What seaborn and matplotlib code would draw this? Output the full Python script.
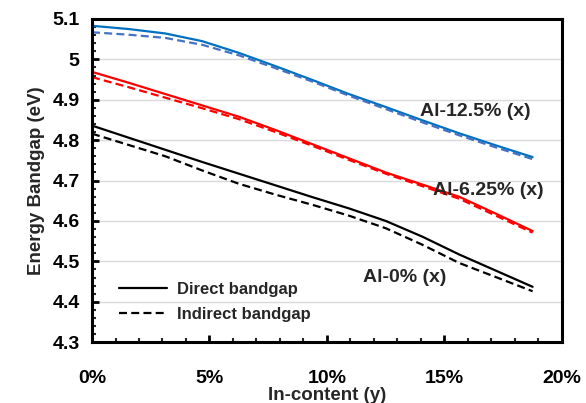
import numpy as np
import pandas as pd
import matplotlib
matplotlib.use("Agg")
import matplotlib.pyplot as plt
import matplotlib.ticker as mticker
import seaborn as sns

# In-content (y) in percent
in_content = [0, 1.5625, 3.125, 4.6875, 6.25, 7.8125, 9.375,
              10.9375, 12.5, 14.0625, 15.625, 17.1875, 18.75]

# Energy bandgap (eV)
al0_direct = [4.836, 4.806, 4.776, 4.746, 4.717, 4.688, 4.659,
              4.631, 4.600, 4.561, 4.517, 4.477, 4.437]
al0_indirect = [4.816, 4.788, 4.760, 4.725, 4.692, 4.665, 4.640,
                4.613, 4.582, 4.541, 4.496, 4.461, 4.426]
al625_direct = [4.969, 4.942, 4.914, 4.886, 4.858, 4.825, 4.790,
                4.755, 4.720, 4.690, 4.660, 4.618, 4.575]
al625_indirect = [4.956, 4.931, 4.905, 4.879, 4.852, 4.820, 4.786,
                  4.751, 4.717, 4.686, 4.655, 4.613, 4.571]
al125_direct = [5.083, 5.075, 5.064, 5.045, 5.016, 4.983, 4.949,
                4.914, 4.882, 4.849, 4.817, 4.787, 4.758]
al125_indirect = [5.067, 5.061, 5.053, 5.036, 5.010, 4.978, 4.945,
                  4.910, 4.877, 4.844, 4.812, 4.782, 4.753]

sns.set_style("white")
plt.rcParams['font.family'] = ['Liberation Sans', 'DejaVu Sans']
plt.rcParams['font.weight'] = 'bold'

fig = plt.figure(figsize=(5.86, 4.03), dpi=100)
ax = fig.add_axes([0.157, 0.151, 0.802, 0.802])

DASH = (3.6, 1.9)
series = [
    (al0_direct, "black", "-"),
    (al0_indirect, "black", "--"),
    (al625_direct, "#FF0000", "-"),
    (al625_indirect, "#FF0000", "--"),
    (al125_direct, "#0070C0", "-"),
    (al125_indirect, "#4472C4", "--"),
]
for vals, col, ls in series:
    df = pd.DataFrame({"x": in_content, "y": vals})
    sns.lineplot(data=df, x="x", y="y", color=col, linewidth=1.6, ax=ax)
    if ls == "--":
        ax.lines[-1].set_dashes(DASH)

ax.set_xlim(0, 20)
ax.set_ylim(4.3, 5.1)
ax.xaxis.set_major_locator(mticker.MultipleLocator(5))
ax.xaxis.set_minor_locator(mticker.MultipleLocator(1))
ax.yaxis.set_major_locator(mticker.MultipleLocator(0.1))
ax.yaxis.set_minor_locator(mticker.MultipleLocator(0.02))
ax.xaxis.set_major_formatter(mticker.FuncFormatter(lambda v, p: f"{v:.0f}%"))
ax.yaxis.set_major_formatter(mticker.FuncFormatter(
    lambda v, p: "5" if abs(v - 5) < 1e-6 else f"{v:.1f}"))

ax.grid(axis="y", color="#d9d9d9", linewidth=1)
ax.grid(axis="x", visible=False)
for s in ax.spines.values():
    s.set_linewidth(2.2)
    s.set_color("black")
ax.tick_params(axis="both", which="major", direction="in", length=5,
               width=2, labelsize=14, colors="black")
ax.tick_params(axis="both", which="minor", direction="in", length=3,
               width=1.5)
ax.tick_params(axis="x", which="major", pad=20)
ax.tick_params(axis="y", which="major", pad=9)
ax.tick_params(axis="y", which="both", left=True)
ax.tick_params(axis="x", which="both", bottom=True)

ax.set_xlabel("In-content (y)", fontsize=13.5, fontweight="bold", labelpad=0)
ax.set_ylabel("Energy Bandgap (eV)", fontsize=13.5, fontweight="bold", labelpad=5)

ax.text(13.95, 4.86, "Al-12.5% (x)", fontsize=14, fontweight="bold")
ax.text(14.5, 4.665, "Al-6.25% (x)", fontsize=14, fontweight="bold")
ax.text(11.55, 4.45, "Al-0% (x)", fontsize=14, fontweight="bold")

ax.plot([], [], color="black", linestyle="-", linewidth=1.6, label="Direct bandgap")
ax.plot([], [], color="black", linestyle=(0, DASH), linewidth=1.6,
        label="Indirect bandgap")
handles, labels = ax.get_legend_handles_labels()
ax.legend(handles[-2:], labels[-2:], loc="lower left",
          bbox_to_anchor=(0.025, 0.015), frameon=False,
          prop={"size": 12, "weight": "bold"}, handlelength=2.9,
          handletextpad=0.6, labelspacing=0.62)

fig.savefig("out.png", dpi=100)
